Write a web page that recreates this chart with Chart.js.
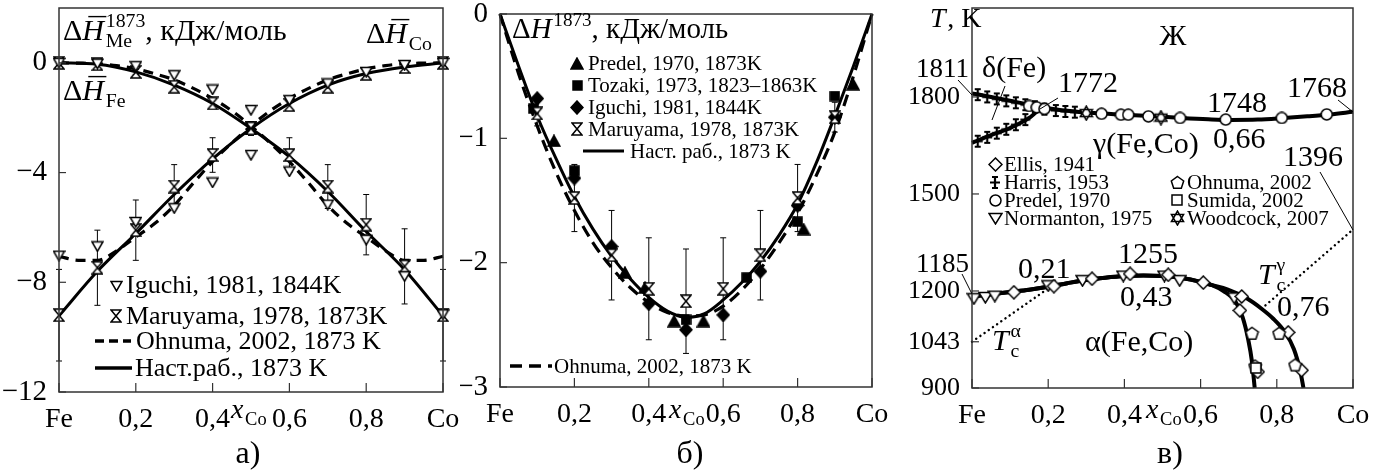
<!DOCTYPE html>
<html>
<head>
<meta charset="utf-8">
<script src="https://cdn.jsdelivr.net/npm/chart.js@4.4.0/dist/chart.umd.min.js"></script>
<style>
body { margin: 0; background: #fff; width: 1380px; height: 475px; position: relative; overflow: hidden; }
canvas { position: absolute; top: 0; }
</style>
</head>
<body>
<canvas id="ca" width="460" height="475" style="left:0"></canvas>
<canvas id="cb" width="445" height="475" style="left:460px"></canvas>
<canvas id="cc" width="475" height="475" style="left:905px"></canvas>
<script>
// ---------- data: panel a (partial enthalpies) ----------
const xTickValues = [0, 0.2, 0.4, 0.6, 0.8, 1];
const xTickLabels = ['Fe', '0,2', '0,4', '0,6', '0,8', 'Co'];

const aTickValues = [-12, -8, -4, 0];
const aTickLabels = ['−12', '−8', '−4', '0'];
const aX = [0, 0.1, 0.2, 0.3, 0.4, 0.5, 0.6, 0.7, 0.8, 0.9, 1];
const aFeSolid = [0, -0.05, -0.33, -0.81, -1.48, -2.39, -3.42, -4.69, -6.15, -7.54, -9.22];
const aCoSolid = [-9.22, -7.6, -6.22, -4.8, -3.5, -2.39, -1.48, -0.81, -0.39, -0.15, 0];
const aXd = [0, 0.05, 0.1, 0.15, 0.2, 0.25, 0.3, 0.35, 0.4, 0.45, 0.5, 0.55, 0.6, 0.65, 0.7, 0.75, 0.8, 0.85, 0.9, 0.95, 1];
const aFeOhnuma = [0, -0.01, -0.03, -0.1, -0.22, -0.4, -0.62, -0.93, -1.3, -1.75, -2.3, -2.92, -3.6, -4.38, -5.2, -5.85, -6.35, -6.85, -7.2, -7.2, -7.05];
const aCoOhnuma = [-7.05, -7.2, -7.2, -6.85, -6.35, -5.85, -5.2, -4.38, -3.6, -2.92, -2.3, -1.75, -1.3, -0.93, -0.62, -0.4, -0.22, -0.1, -0.03, -0.01, 0];
const aFeIguchi = [0, -0.03, -0.12, -0.45, -0.97, -1.72, -3.96, -5.17, -6.45, -7.78, -9.17];
const aCoIguchi = [-7.03, -6.69, -5.8, -5.3, -4.36, -3.36, -1.36, -0.75, -0.33, -0.08, 0];
const aFeMaru = [0, -0.05, -0.33, -0.87, -1.48, -2.39, -3.36, -4.51, -5.9, -7.42, -9.2];
const aCoMaru = [-9.2, -7.47, -6.1, -4.51, -3.36, -2.39, -1.54, -0.87, -0.4, -0.15, 0];
const aFeMaruErr = [0, 0, 0.1, 0.15, 0.2, 0.25, 0.63, 0.8, 1.1, 1.37, 1.67];
const aCoMaruErr = [1.67, 1.37, 1.1, 0.8, 0.63, 0.25, 0.2, 0.15, 0.1, 0, 0];

// ---------- data: panel b (integral enthalpy of mixing) ----------
const bTickValues = [-3, -2, -1, 0];
const bTickLabels = ['−3', '−2', '−1', '0'];
const bX = [0, 0.05, 0.1, 0.15, 0.2, 0.25, 0.3, 0.35, 0.4, 0.45, 0.5, 0.55, 0.6, 0.65, 0.7, 0.75, 0.8, 0.85, 0.9, 0.95, 1];
const bSolid = [0, -0.42, -0.82, -1.16, -1.47, -1.73, -1.95, -2.13, -2.28, -2.39, -2.44, -2.41, -2.3, -2.16, -1.99, -1.78, -1.53, -1.2, -0.82, -0.42, 0];
const bOhnuma = [0, -0.48, -0.9, -1.27, -1.58, -1.84, -2.04, -2.2, -2.32, -2.4, -2.43, -2.42, -2.35, -2.22, -2.05, -1.84, -1.6, -1.3, -0.95, -0.5, 0];
const bPredelX = [0.145, 0.336, 0.39, 0.468, 0.547, 0.816, 0.949];
const bPredelY = [-1.02, -2.08, -2.2, -2.47, -2.47, -1.73, -0.565];
const bTozakiX = [0.09, 0.2, 0.5, 0.663, 0.8, 0.9];
const bTozakiY = [-0.76, -1.26, -2.46, -2.12, -1.67, -0.66];
const bIguchiX = [0.1, 0.2, 0.3, 0.4, 0.5, 0.6, 0.7, 0.8, 0.9];
const bIguchiY = [-0.68, -1.32, -1.87, -2.33, -2.54, -2.42, -2.07, -1.54, -0.83];
const bMaruX = [0.1, 0.2, 0.3, 0.4, 0.5, 0.6, 0.7, 0.8, 0.9];
const bMaruY = [-0.8, -1.48, -1.94, -2.21, -2.31, -2.21, -1.94, -1.48, -0.83];
const bMaruErr = [0.1, 0.27, 0.36, 0.41, 0.42, 0.41, 0.36, 0.27, 0.12];

// ---------- data: panel c (phase diagram) ----------
const cTickValues = [900, 1043, 1200, 1500, 1800];
const cTickLabels = ['900', '1043', '1200', '1500', '1800'];
const cDeltaUpX = [0, 0.05, 0.1, 0.15, 0.18];
const cDeltaUpT = [1811, 1800, 1788, 1776, 1768];
const cDeltaLowX = [0, 0.05, 0.1, 0.15, 0.18];
const cDeltaLowT = [1658, 1682, 1704, 1735, 1765];
const cLiqX = [0.18, 0.25, 0.32, 0.4, 0.48, 0.55, 0.62, 0.68, 0.75, 0.81, 0.88, 0.94, 1];
const cLiqT = [1768, 1757, 1750, 1745, 1740, 1735, 1731, 1729, 1730, 1734, 1740, 1746, 1754];
const cAlphaX = [0, 0.05, 0.1, 0.15, 0.2, 0.25, 0.3, 0.35, 0.4, 0.45, 0.5, 0.55, 0.6, 0.63];
const cAlphaT = [1183, 1190, 1197, 1204, 1213, 1224, 1234, 1241, 1246, 1248, 1246, 1240, 1228, 1218];
const cInnerX = [0.66, 0.69, 0.71, 0.725, 0.735, 0.742];
const cInnerT = [1200, 1170, 1120, 1050, 980, 900];
const cOuterX = [0.67, 0.72, 0.76, 0.79, 0.82, 0.845, 0.862, 0.87];
const cOuterT = [1205, 1178, 1145, 1115, 1075, 1020, 950, 900];
const cTcAlphaX = [0, 0.205];
const cTcAlphaT = [1043, 1212];
const cTcGammaX = [0.76, 1];
const cTcGammaT = [1145, 1390];
const cHarrisX = [0.015, 0.04, 0.065, 0.09, 0.115, 0.14, 0.165, 0.015, 0.04, 0.065, 0.09, 0.115, 0.14, 0.19, 0.22, 0.245, 0.27];
const cHarrisT = [1807, 1800, 1794, 1788, 1782, 1776, 1770, 1663, 1675, 1688, 1700, 1714, 1730, 1762, 1758, 1755, 1753];
const cPredelX = [0.15, 0.17, 0.19, 0.34, 0.391, 0.41, 0.463, 0.546, 0.666, 0.813, 0.931];
const cPredelT = [1772, 1768, 1763, 1748, 1745, 1745, 1740, 1735, 1730, 1735, 1746];
const cWoodX = [0.3, 0.496];
const cWoodT = [1750, 1736];
const cEllisX = [0.11, 0.215, 0.315, 0.415, 0.515, 0.607, 0.708, 0.703, 0.83, 0.75, 0.865];
const cEllisT = [1196, 1215, 1238, 1253, 1250, 1226, 1183, 1140, 1072, 950, 955];
const cNormX = [0.005, 0.035, 0.06, 0.2, 0.29, 0.397, 0.505, 0.545, 0.688];
const cNormT = [1176, 1180, 1184, 1216, 1232, 1246, 1246, 1232, 1178];
const cOhnumaX = [0.735, 0.743, 0.806, 0.848];
const cOhnumaT = [1069, 968, 1069, 971];
const cSumidaX = [0.745];
const cSumidaT = [962];

// ---------- helpers ----------
const FF = '"Liberation Serif", "Times New Roman", serif';
const font = (s, it) => (it ? 'italic ' : '') + s + 'px ' + FF;
const zip = (xs, ys) => xs.map((x, i) => ({ x: x, y: ys[i] }));

function mk(w, h, fn) {
  const c = document.createElement('canvas');
  c.width = w; c.height = h;
  const g = c.getContext('2d');
  g.lineWidth = 1.5; g.strokeStyle = '#000'; g.fillStyle = '#fff';
  fn(g, w, h);
  return c;
}
function poly(g, pts, fill) {
  g.beginPath();
  pts.forEach((p, i) => i ? g.lineTo(p[0], p[1]) : g.moveTo(p[0], p[1]));
  g.closePath();
  g.fillStyle = fill || '#fff';
  g.fill(); g.stroke();
}
const M = {
  down: mk(13, 12, (g, w, h) => poly(g, [[1, 1.5], [w - 1, 1.5], [w / 2, h - 1]])),
  hour: mk(12, 14, (g, w, h) => poly(g, [[1, 1], [w - 1, 1], [1, h - 1], [w - 1, h - 1]])),
  triB: mk(14, 13, (g, w, h) => poly(g, [[w / 2, 1], [w - 1, h - 1], [1, h - 1]], '#000')),
  sqB: mk(11, 11, (g, w, h) => poly(g, [[1, 1], [w - 1, 1], [w - 1, h - 1], [1, h - 1]], '#000')),
  diaB: mk(14, 15, (g, w, h) => poly(g, [[w / 2, 1], [w - 1, h / 2], [w / 2, h - 1], [1, h / 2]], '#000')),
  circ: mk(13, 13, (g, w, h) => { g.beginPath(); g.arc(w / 2, h / 2, w / 2 - 1, 0, Math.PI * 2); g.fill(); g.stroke(); }),
  dia: mk(15, 15, (g, w, h) => poly(g, [[w / 2, 1], [w - 1, h / 2], [w / 2, h - 1], [1, h / 2]])),
  down2: mk(15, 13, (g, w, h) => poly(g, [[1, 1.5], [w - 1, 1.5], [w / 2, h - 1]])),
  pent: mk(15, 15, (g, w, h) => {
    const p = [];
    for (let k = 0; k < 5; k++) { const a = -Math.PI / 2 + k * 2 * Math.PI / 5; p.push([w / 2 + 6.5 * Math.cos(a), h / 2 + 0.5 + 6.5 * Math.sin(a)]); }
    poly(g, p);
  }),
  sq: mk(12, 12, (g, w, h) => poly(g, [[1, 1], [w - 1, 1], [w - 1, h - 1], [1, h - 1]])),
  star: mk(15, 16, (g, w, h) => {
    const t1 = [], t2 = [];
    for (let k = 0; k < 3; k++) {
      const a = -Math.PI / 2 + k * 2 * Math.PI / 3, b = Math.PI / 2 + k * 2 * Math.PI / 3;
      t1.push([w / 2 + 7 * Math.cos(a), h / 2 + 7 * Math.sin(a)]);
      t2.push([w / 2 + 7 * Math.cos(b), h / 2 + 7 * Math.sin(b)]);
    }
    g.beginPath(); t1.forEach((p, i) => i ? g.lineTo(p[0], p[1]) : g.moveTo(p[0], p[1])); g.closePath();
    t2.forEach((p, i) => i ? g.lineTo(p[0], p[1]) : g.moveTo(p[0], p[1])); g.closePath();
    g.fill(); g.stroke();
  }),
  harris: mk(12, 15, (g, w, h) => {
    g.lineWidth = 2.2; g.beginPath();
    g.moveTo(w / 2, 1); g.lineTo(w / 2, h - 1);
    g.moveTo(1, h / 2); g.lineTo(w - 1, h / 2);
    g.moveTo(w / 2 - 3, 2); g.lineTo(w / 2 + 3, 2);
    g.moveTo(w / 2 - 3, h - 2); g.lineTo(w / 2 + 3, h - 2);
    g.stroke();
  })
};

function rich(ctx, x, y, parts, size, align) {
  const segs = parts.map(p => {
    const s = Object.assign({}, p);
    if (p.ss) {
      ctx.font = font(size * 0.66);
      s.w = Math.max(ctx.measureText(p.ss[0]).width, ctx.measureText(p.ss[1]).width);
    } else if (p.sup || p.sub) {
      ctx.font = font(size * 0.66, p.i);
      s.w = ctx.measureText(p.sup || p.sub).width;
    } else {
      ctx.font = font(size, p.i);
      s.w = ctx.measureText(p.t).width + (p.i ? size * 0.06 : 0);
    }
    return s;
  });
  const total = segs.reduce((a, s) => a + s.w, 0);
  let cx = align === 'center' ? x - total / 2 : (align === 'right' ? x - total : x);
  ctx.textAlign = 'left'; ctx.textBaseline = 'alphabetic'; ctx.fillStyle = '#000';
  segs.forEach(s => {
    if (s.ss) {
      ctx.font = font(size * 0.66);
      ctx.fillText(s.ss[0], cx, y - size * 0.42);
      ctx.fillText(s.ss[1], cx, y + size * 0.24);
    } else if (s.sup) {
      ctx.font = font(size * 0.66, s.i); ctx.fillText(s.sup, cx, y - size * 0.42);
    } else if (s.sub) {
      ctx.font = font(size * 0.66, s.i); ctx.fillText(s.sub, cx, y + size * 0.24);
    } else {
      ctx.font = font(size, s.i); ctx.fillText(s.t, cx, y);
      if (s.bar) {
        ctx.save(); ctx.lineWidth = 1.4; ctx.strokeStyle = '#000';
        ctx.beginPath(); ctx.moveTo(cx + size * 0.2, y - size * 0.78); ctx.lineTo(cx + s.w + size * 0.02, y - size * 0.78); ctx.stroke();
        ctx.restore();
      }
    }
    cx += s.w;
  });
}
function seg(ctx, x1, y1, x2, y2, w, dash) {
  ctx.save(); ctx.strokeStyle = '#000'; ctx.lineWidth = w || 1; ctx.setLineDash(dash || []);
  ctx.beginPath(); ctx.moveTo(x1, y1); ctx.lineTo(x2, y2); ctx.stroke(); ctx.restore();
}
function mark(ctx, img, x, y) { ctx.drawImage(img, Math.round(x - img.width / 2), Math.round(y - img.height / 2)); }
function txt(ctx, s, x, y, size, align) {
  ctx.font = font(size); ctx.fillStyle = '#000'; ctx.textAlign = align || 'left'; ctx.textBaseline = 'alphabetic';
  ctx.fillText(s, x, y);
}

const lineDs = (data, w, dash) => ({ data: data, showLine: true, borderColor: '#000', borderWidth: w, borderDash: dash || [], pointRadius: 0, cubicInterpolationMode: 'monotone', fill: false, order: 2, clip: false });
const dotDs = (data) => ({ data: data, showLine: true, borderColor: '#000', borderWidth: 2.4, borderDash: [0.1, 5], borderCapStyle: 'round', pointRadius: 0, tension: 0, fill: false, order: 3, clip: false });
const ptDs = (data, img, err) => ({ data: data, showLine: false, pointStyle: img, pointRadius: 6, pointHoverRadius: 6, errorBars: err, order: 1, clip: false });

// annotation painters per canvas (kept outside chart options so they are not treated as scriptable)
const painters = {};
const offsets = { ca: 0, cb: 460, cc: 905 };
const widths = { ca: 460, cb: 445, cc: 475 };

const framePlugin = {
  id: 'frame',
  beforeDatasetsDraw(chart) {
    const ctx = chart.ctx, xs = chart.scales.x, ys = chart.scales.y;
    ctx.save(); ctx.strokeStyle = '#000'; ctx.lineWidth = 1;
    chart.data.datasets.forEach(ds => {
      if (!ds.errorBars) return;
      ds.data.forEach((p, i) => {
        const e = ds.errorBars[i];
        if (!e) return;
        const px = xs.getPixelForValue(p.x), y1 = ys.getPixelForValue(p.y + e), y2 = ys.getPixelForValue(p.y - e);
        ctx.beginPath();
        ctx.moveTo(px, y1); ctx.lineTo(px, y2);
        ctx.moveTo(px - 3, y1); ctx.lineTo(px + 3, y1);
        ctx.moveTo(px - 3, y2); ctx.lineTo(px + 3, y2);
        ctx.stroke();
      });
    });
    ctx.restore();
  },
  afterDraw(chart) {
    const ctx = chart.ctx, a = chart.chartArea, xs = chart.scales.x, ys = chart.scales.y;
    ctx.save();
    ctx.strokeStyle = '#333'; ctx.lineWidth = 1.5;
    ctx.strokeRect(a.left, a.top, a.right - a.left, a.bottom - a.top);
    ctx.lineWidth = 1.2;
    xs.ticks.forEach(t => {
      const px = xs.getPixelForValue(t.value);
      ctx.beginPath(); ctx.moveTo(px, a.bottom); ctx.lineTo(px, a.bottom - 9); ctx.stroke();
    });
    ys.ticks.forEach(t => {
      const py = ys.getPixelForValue(t.value);
      ctx.beginPath(); ctx.moveTo(a.left, py); ctx.lineTo(a.left + 7, py); ctx.stroke();
    });
    ctx.restore();
    const id = chart.canvas.id;
    ctx.save(); ctx.translate(-offsets[id], 0);
    painters[id](ctx);
    ctx.restore();
  }
};

function makeChart(id, box, yMin, yMax, yVals, yLabs, ySize, datasets, draw) {
  const off = offsets[id];
  painters[id] = draw;
  return new Chart(document.getElementById(id), {
    type: 'line',
    data: { datasets: datasets },
    options: {
      responsive: false, animation: false, devicePixelRatio: 1,
      layout: { padding: { left: 0, right: off + widths[id] - box.right, top: box.top, bottom: 0 } },
      plugins: { legend: { display: false }, tooltip: { enabled: false } },
      scales: {
        x: {
          type: 'linear', min: 0, max: 1,
          afterBuildTicks: s => { s.ticks = xTickValues.map(v => ({ value: v })); },
          afterFit: s => { s.height = 475 - box.bottom; s.paddingLeft = 0; s.paddingRight = 0; },
          ticks: { callback: v => xTickLabels[xTickValues.indexOf(v)], font: { family: FF, size: 28 }, color: '#000', padding: 3, maxRotation: 0, autoSkip: false },
          grid: { display: false }, border: { display: false }
        },
        y: {
          type: 'linear', min: yMin, max: yMax,
          afterBuildTicks: s => { s.ticks = yVals.map(v => ({ value: v })); },
          afterFit: s => { s.width = box.left - off; s.paddingTop = 0; s.paddingBottom = 0; },
          ticks: { callback: v => yLabs[yVals.indexOf(v)], font: { family: FF, size: ySize }, color: '#000', padding: 4, autoSkip: false },
          grid: { display: false }, border: { display: false }
        }
      }
    },
    plugins: [framePlugin]
  });
}

// ---------- panel a ----------
makeChart('ca', { left: 59, right: 443, top: 8, bottom: 392 }, -12, 2, aTickValues, aTickLabels, 29, [
  ptDs(zip(aX, aFeIguchi), M.down),
  ptDs(zip(aX, aCoIguchi), M.down),
  ptDs(zip(aX, aFeMaru), M.hour, aFeMaruErr),
  ptDs(zip(aX, aCoMaru), M.hour, aCoMaruErr),
  lineDs(zip(aX, aFeSolid), 3),
  lineDs(zip(aX, aCoSolid), 3),
  lineDs(zip(aXd, aFeOhnuma), 3.2, [10, 7]),
  lineDs(zip(aXd, aCoOhnuma), 3.2, [10, 7])
], ctx => {
  rich(ctx, 63, 40, [{ t: 'Δ' }, { t: 'H', i: 1, bar: 1 }, { ss: ['1873', 'Me'] }, { t: ', кДж/моль' }], 30);
  rich(ctx, 366, 43, [{ t: 'Δ' }, { t: 'H', i: 1, bar: 1 }, { sub: 'Co' }], 30);
  rich(ctx, 63, 100, [{ t: 'Δ' }, { t: 'H', i: 1, bar: 1 }, { sub: 'Fe' }], 30);
  mark(ctx, M.down, 116, 286); txt(ctx, 'Iguchi, 1981, 1844K', 126, 293, 26);
  mark(ctx, M.hour, 116, 316); txt(ctx, 'Maruyama, 1978, 1873K', 126, 324, 26);
  seg(ctx, 95, 341, 131, 341, 3.5, [9, 5]); txt(ctx, 'Ohnuma, 2002, 1873 K', 136, 349, 26);
  seg(ctx, 95, 368, 132, 368, 3.5); txt(ctx, 'Наст.раб., 1873 K', 135, 376, 26);
  rich(ctx, 231, 418, [{ t: 'x', i: 1 }, { sub: 'Co' }], 28);
  txt(ctx, 'а)', 248, 463, 32, 'center');
});

// ---------- panel b ----------
makeChart('cb', { left: 500, right: 872, top: 14, bottom: 387 }, -3, 0, bTickValues, bTickLabels, 29, [
  ptDs(zip(bMaruX, bMaruY), M.hour, bMaruErr),
  ptDs(zip(bIguchiX, bIguchiY), M.diaB),
  ptDs(zip(bTozakiX, bTozakiY), M.sqB),
  ptDs(zip(bPredelX, bPredelY), M.triB),
  lineDs(zip(bX, bSolid), 3),
  lineDs(zip(bX, bOhnuma), 3.2, [12, 7])
], ctx => {
  rich(ctx, 512, 38, [{ t: 'Δ' }, { t: 'H', i: 1 }, { sup: '1873' }, { t: ', кДж/моль' }], 29);
  mark(ctx, M.triB, 577, 63); txt(ctx, 'Predel, 1970, 1873K', 588, 70, 21);
  mark(ctx, M.sqB, 577, 85); txt(ctx, 'Tozaki, 1973, 1823–1863K', 588, 92, 21);
  mark(ctx, M.diaB, 577, 107); txt(ctx, 'Iguchi, 1981, 1844K', 588, 114, 21);
  mark(ctx, M.hour, 577, 129); txt(ctx, 'Maruyama, 1978, 1873K', 588, 136, 21);
  seg(ctx, 583, 151, 624, 151, 3); txt(ctx, 'Наст. раб., 1873 K', 630, 158, 21);
  seg(ctx, 510, 366, 552, 366, 3.5, [12, 7]); txt(ctx, 'Ohnuma, 2002, 1873 K', 554, 373, 21);
  rich(ctx, 669, 418, [{ t: 'x', i: 1 }, { sub: 'Co' }], 28);
  txt(ctx, 'б)', 690, 463, 32, 'center');
});

// ---------- panel c ----------
makeChart('cc', { left: 972, right: 1353, top: 8, bottom: 388 }, 900, 2075, cTickValues, cTickLabels, 26, [
  ptDs(zip(cSumidaX, cSumidaT), M.sq),
  ptDs(zip(cOhnumaX, cOhnumaT), M.pent),
  ptDs(zip(cEllisX, cEllisT), M.dia),
  ptDs(zip(cNormX, cNormT), M.down2),
  ptDs(zip(cWoodX, cWoodT), M.star),
  ptDs(zip(cPredelX, cPredelT), M.circ),
  ptDs(zip(cHarrisX, cHarrisT), M.harris),
  lineDs(zip(cDeltaUpX, cDeltaUpT), 4),
  lineDs(zip(cDeltaLowX, cDeltaLowT), 4),
  lineDs(zip(cLiqX, cLiqT), 4),
  lineDs(zip(cAlphaX.concat(cInnerX), cAlphaT.concat(cInnerT)), 4),
  lineDs(zip(cAlphaX.concat(cOuterX), cAlphaT.concat(cOuterT)), 4),
  dotDs(zip(cTcAlphaX, cTcAlphaT)),
  dotDs(zip(cTcGammaX, cTcGammaT))
], ctx => {
  rich(ctx, 930, 27, [{ t: 'T', i: 1 }, { t: ', K' }], 28);
  txt(ctx, 'Ж', 1173, 45, 30, 'center');
  txt(ctx, '1811', 916, 77, 27); seg(ctx, 958, 80, 972, 95);
  txt(ctx, 'δ(Fe)', 982, 77, 30); seg(ctx, 1005, 86, 992, 120);
  txt(ctx, '1772', 1058, 92, 30); seg(ctx, 1058, 98, 1040, 109);
  txt(ctx, '1748', 1207, 112, 30);
  txt(ctx, '1768', 1287, 97, 30); seg(ctx, 1338, 100, 1353, 112);
  txt(ctx, 'γ(Fe,Co)', 1093, 153, 30);
  txt(ctx, '0,66', 1213, 148, 30);
  txt(ctx, '1396', 1283, 166, 30); seg(ctx, 1320, 172, 1353, 230);
  mark(ctx, M.dia, 995, 164); txt(ctx, 'Ellis, 1941', 1004, 171, 21);
  mark(ctx, M.harris, 995, 182); txt(ctx, 'Harris, 1953', 1004, 189, 21);
  mark(ctx, M.circ, 995, 200); txt(ctx, 'Predel, 1970', 1004, 207, 21);
  mark(ctx, M.down2, 995, 218); txt(ctx, 'Normanton, 1975', 1004, 225, 21);
  mark(ctx, M.pent, 1177, 182); txt(ctx, 'Ohnuma, 2002', 1187, 189, 21);
  mark(ctx, M.sq, 1177, 200); txt(ctx, 'Sumida, 2002', 1187, 207, 21);
  mark(ctx, M.star, 1177, 218); txt(ctx, 'Woodcock, 2007', 1187, 225, 21);
  txt(ctx, '1185', 916, 272, 27); seg(ctx, 962, 274, 972, 294);
  txt(ctx, '0,21', 1018, 278, 30);
  txt(ctx, '1255', 1118, 263, 30);
  txt(ctx, '0,43', 1120, 306, 30);
  rich(ctx, 1258, 284, [{ t: 'T', i: 1 }, { ss: ['γ', 'c'] }], 30);
  txt(ctx, '0,76', 1277, 316, 30);
  rich(ctx, 992, 350, [{ t: 'T', i: 1 }, { ss: ['α', 'c'] }], 30);
  txt(ctx, 'α(Fe,Co)', 1085, 351, 30);
  rich(ctx, 1146, 418, [{ t: 'x', i: 1 }, { sub: 'Co' }], 28);
  txt(ctx, 'в)', 1170, 463, 32, 'center');
});
</script>
</body>
</html>
